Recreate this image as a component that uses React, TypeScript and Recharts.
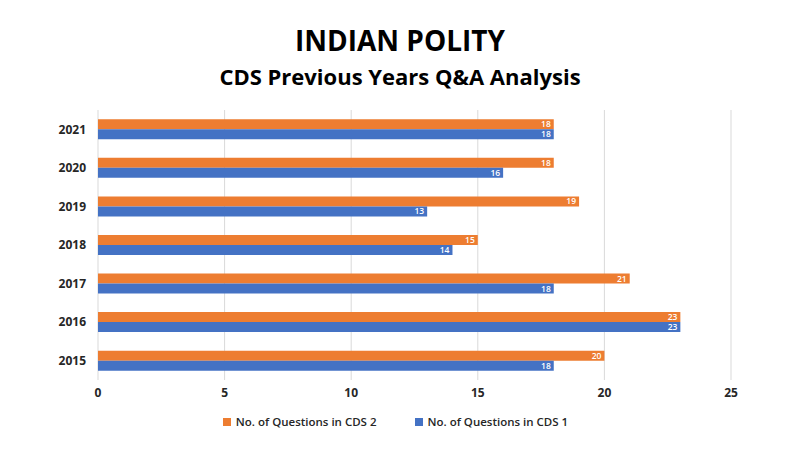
import React from 'react'
import {
	BarChart,
	Bar,
	XAxis,
	YAxis,
	CartesianGrid,
	Legend,
	LabelList,
} from 'recharts'

const years = ['2021', '2020', '2019', '2018', '2017', '2016', '2015']
const cds2 = [18, 18, 19, 15, 21, 23, 20]
const cds1 = [18, 16, 13, 14, 18, 23, 18]
const xTicks = [0, 5, 10, 15, 20, 25]
const seriesNames = ['No. of Questions in CDS 2', 'No. of Questions in CDS 1']
const seriesColors = ['#ed7d31', '#4472c4']

const data = years.map((year, i) => ({ year, cds2: cds2[i], cds1: cds1[i] }))

const FONT = "'Open Sans', 'Noto Sans', sans-serif"

// fixed order, recharts sorts legend items by name otherwise
function LegendBox() {
	return (
		<div style={{ display: 'flex', justifyContent: 'center', gap: 38, fontFamily: FONT, paddingLeft: 22 }}>
			{seriesNames.map((name, i) => (
				<div key={name} style={{ display: 'flex', alignItems: 'center', fontSize: 11.5, fontWeight: 600, color: '#262626' }}>
					<span style={{ width: 8, height: 8, background: seriesColors[i], marginRight: 5, display: 'inline-block' }} />
					{name}
				</div>
			))}
		</div>
	)
}

export default function App() {
	return (
		<div style={{ position: 'absolute', left: 0, top: 0, width: 800, height: 450, overflow: 'hidden', background: '#fff', fontFamily: FONT }}>
			<div style={{ position: 'absolute', top: 21, width: 800, textAlign: 'center', fontSize: 28, fontWeight: 700, color: '#000' }}>
				INDIAN POLITY
			</div>
			<div style={{ position: 'absolute', top: 61, width: 800, textAlign: 'center', fontSize: 22, fontWeight: 700, color: '#000' }}>
				CDS Previous Years Q&amp;A Analysis
			</div>
			<div style={{ position: 'absolute', left: 0, top: 0 }}>
				<BarChart
					width={800}
					height={450}
					data={data}
					layout='vertical'
					margin={{ top: 110, right: 69, left: 38, bottom: 4 }}
					barCategoryGap='24%'
					barGap={0}
				>
					<CartesianGrid horizontal={false} stroke='#d9d9d9' />
					<XAxis
						type='number'
						domain={[0, 25]}
						ticks={xTicks}
						axisLine={false}
						tickLine={false}
						tick={{ fontSize: 12, fontWeight: 700, fill: '#262626', fontFamily: FONT }}
						height={30}
					/>
					<YAxis
						type='category'
						dataKey='year'
						width={60}
						axisLine={false}
						tickLine={false}
						tick={{ fontSize: 12, fontWeight: 700, fill: '#262626', fontFamily: FONT }}
						tickMargin={6}
					/>
					<Legend
						verticalAlign='bottom'
						height={36}
						content={<LegendBox />}
						wrapperStyle={{ top: 414, bottom: 'auto', height: 36 }}
					/>
					<Bar dataKey='cds2' name={seriesNames[0]} fill={seriesColors[0]} isAnimationActive={false}>
						<LabelList dataKey='cds2' position='insideRight' fill='#fff' fontSize={8.5} fontWeight={600} fontFamily={FONT} offset={3} />
					</Bar>
					<Bar dataKey='cds1' name={seriesNames[1]} fill={seriesColors[1]} isAnimationActive={false}>
						<LabelList dataKey='cds1' position='insideRight' fill='#fff' fontSize={8.5} fontWeight={600} fontFamily={FONT} offset={3} />
					</Bar>
				</BarChart>
			</div>
		</div>
	)
}
